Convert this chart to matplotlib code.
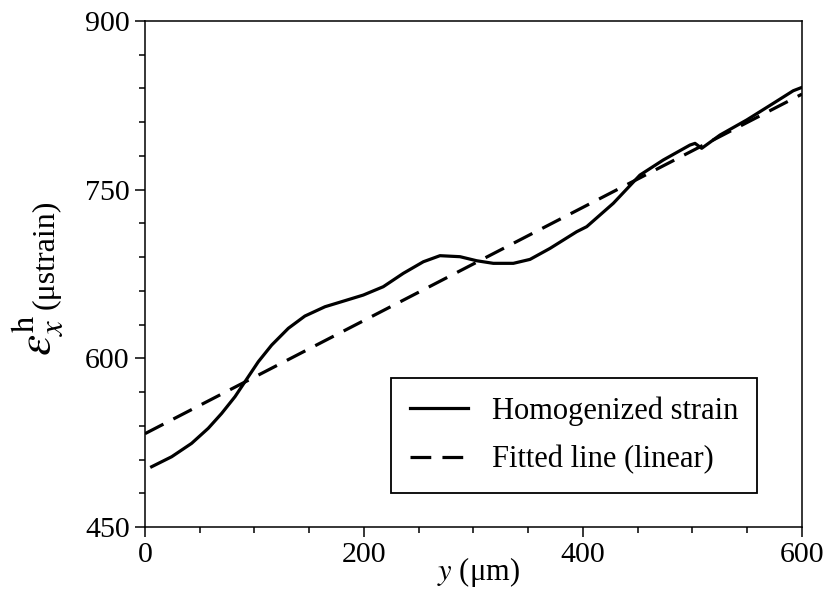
import matplotlib
matplotlib.use("Agg")
import matplotlib.pyplot as plt
from matplotlib.ticker import MultipleLocator

plt.rcParams['font.family'] = ['Liberation Serif', 'DejaVu Serif']
plt.rcParams['mathtext.fontset'] = 'stix'

# Homogenized strain
y_pos = [6.1, 24.4, 42.6, 57.8, 70, 82.2, 91.3, 103.5, 115.7, 130.9, 146, 164.4,
         179.6, 199.4, 217.6, 235.9, 254.2, 269.4, 287.7, 302.9, 318.1, 336.4,
         351.6, 369.9, 394.2, 403.4, 427.7, 452, 473.3, 497.7, 502.3, 508.4,
         525.1, 549.5, 573.8, 592, 600]
strain = [503.6, 512.5, 524.4, 537.8, 551, 565.9, 579.2, 597, 611.8, 626.7, 637.6, 645.9,
          650.4, 656.3, 663.7, 675.6, 685.9, 691.3, 690.4, 686.8, 684.5, 684.5,
          688, 697.8, 712.6, 717.1, 737.9, 763, 776.4, 789.7, 791.2, 786.8,
          798.6, 812, 826.8, 838, 841]

# Fitted linear line end points
fit_y = [0, 600]
fit_strain = [533, 835]

fig = plt.figure(figsize=(8.28, 5.94), dpi=100)
ax = fig.add_axes([0.1751, 0.1128, 0.7935, 0.8518])

ax.plot(y_pos, strain, color='black', lw=2.3, label='Homogenized strain',
        solid_joinstyle='round')
ax.plot(fit_y, fit_strain, color='black', lw=2.3, dashes=(6.5, 3.5),
        label='Fitted line (linear)')

ax.set_xlim(0, 600)
ax.set_ylim(450, 900)
ax.xaxis.set_major_locator(MultipleLocator(200))
ax.xaxis.set_minor_locator(MultipleLocator(50))
ax.yaxis.set_major_locator(MultipleLocator(150))
ax.yaxis.set_minor_locator(MultipleLocator(30))
ax.tick_params(which='both', direction='out', top=False, right=False, width=1.1,
               labelsize=21.5)
ax.tick_params(which='major', length=7, pad=4)
ax.tick_params(which='minor', length=4)
for s in ax.spines.values():
    s.set_linewidth(1.1)

ax.set_xlabel(r'$y$ (μm)', fontsize=22, labelpad=-3)
ax.xaxis.set_label_coords(0.508, -0.055, transform=ax.transAxes)
ax.xaxis.label.set_va('top')

# y label: large epsilon with sub/superscript, then unit
fig.text(0.0453, 1 - 314 / 594, r'$\varepsilon_x^{\mathrm{h}}$', rotation=90,
         fontsize=34, ha='center', va='top')
fig.text(0.0556, 1 - 309 / 594, '(μstrain)', rotation=90, fontsize=23,
         ha='center', va='bottom')

leg = ax.legend(loc='lower right', bbox_to_anchor=(0.9315, 0.0672), fontsize=22,
                frameon=True, fancybox=False, edgecolor='black', framealpha=1,
                handlelength=1.9, handletextpad=0.8, borderpad=0.6,
                labelspacing=0.65, borderaxespad=0)
leg.get_frame().set_linewidth(1.3)

fig.savefig('out.png', dpi=100)
